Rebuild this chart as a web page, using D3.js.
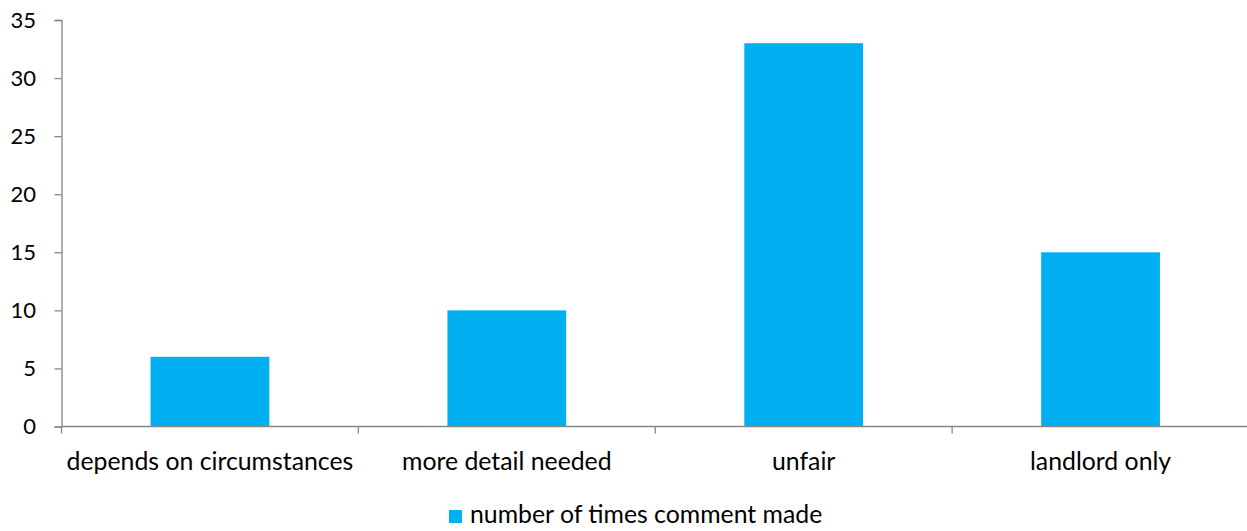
<!DOCTYPE html>
<html>
<head>
<meta charset="utf-8">
<script src="https://cdn.jsdelivr.net/npm/d3@7"></script>
<style>
  html, body { margin: 0; padding: 0; background: #fff; }
  svg { display: block; }
  text { font-family: Lato, "Open Sans", sans-serif; fill: #000; }
</style>
</head>
<body>
<svg id="chart" width="1247" height="531"></svg>
<script>
// Comment categories and how often each was made
const categories = ["depends on circumstances", "more detail needed", "unfair", "landlord only"];
const counts = [6, 10, 33, 15];
const yTicks = [0, 5, 10, 15, 20, 25, 30, 35];
const seriesName = "number of times comment made";

const W = 1247, H = 531;
const margin = { left: 61.5, right: -2, top: 20, bottom: 104.5 };
const tickFont = 22;
const labelFont = 24.8;
const barColor = "#00B0F0";
const axisColor = "#868686";

const svg = d3.select("#chart");

const x = d3.scaleBand()
  .domain(categories)
  .range([margin.left, W - margin.right])
  .paddingInner(0.6)
  .paddingOuter(0.3);

const y = d3.scaleLinear()
  .domain([0, 35])
  .range([H - margin.bottom, margin.top]);

// bars
svg.append("g").selectAll("rect")
  .data(categories.map((c, i) => ({ c, v: counts[i] })))
  .join("rect")
  .attr("x", d => x(d.c))
  .attr("width", x.bandwidth())
  .attr("y", d => y(d.v))
  .attr("height", d => y(0) - y(d.v))
  .attr("fill", barColor);

// y axis
const yAxis = svg.append("g")
  .attr("transform", `translate(${margin.left},0)`)
  .call(d3.axisLeft(y).tickValues(yTicks).tickSize(7).tickPadding(18.5));
yAxis.select(".domain").attr("stroke", axisColor).attr("stroke-width", 1.3);
yAxis.selectAll(".tick line").attr("stroke", axisColor).attr("stroke-width", 1.3);
yAxis.selectAll(".tick text")
  .style("font-size", tickFont + "px")
  .attr("fill", "#000");

// x axis with ticks at category boundaries
const step = x.step();
const x0 = margin.left;
const boundaries = d3.range(categories.length + 1).map(i => x0 + i * step);
const xg = svg.append("g");
xg.append("line")
  .attr("x1", x0).attr("x2", W + 5)
  .attr("y1", y(0)).attr("y2", y(0))
  .attr("stroke", axisColor).attr("stroke-width", 1.3);
xg.selectAll("line.tk")
  .data(boundaries)
  .join("line")
  .attr("class", "tk")
  .attr("x1", d => d).attr("x2", d => d)
  .attr("y1", y(0)).attr("y2", y(0) + 7)
  .attr("stroke", axisColor).attr("stroke-width", 1.3);
xg.selectAll("text")
  .data(categories)
  .join("text")
  .attr("x", d => x(d) + x.bandwidth() / 2)
  .attr("y", y(0) + 37)
  .attr("text-anchor", "middle")
  .attr("dominant-baseline", "middle")
  .style("font-size", labelFont + "px")
  .text(d => d);

// legend
const legend = svg.append("g").attr("transform", "translate(449,510)");
legend.append("rect").attr("width", 13).attr("height", 13).attr("fill", barColor);
legend.append("text")
  .attr("x", 21).attr("y", 7)
  .attr("dominant-baseline", "middle")
  .style("font-size", labelFont + "px")
  .text(seriesName);
</script>
</body>
</html>
